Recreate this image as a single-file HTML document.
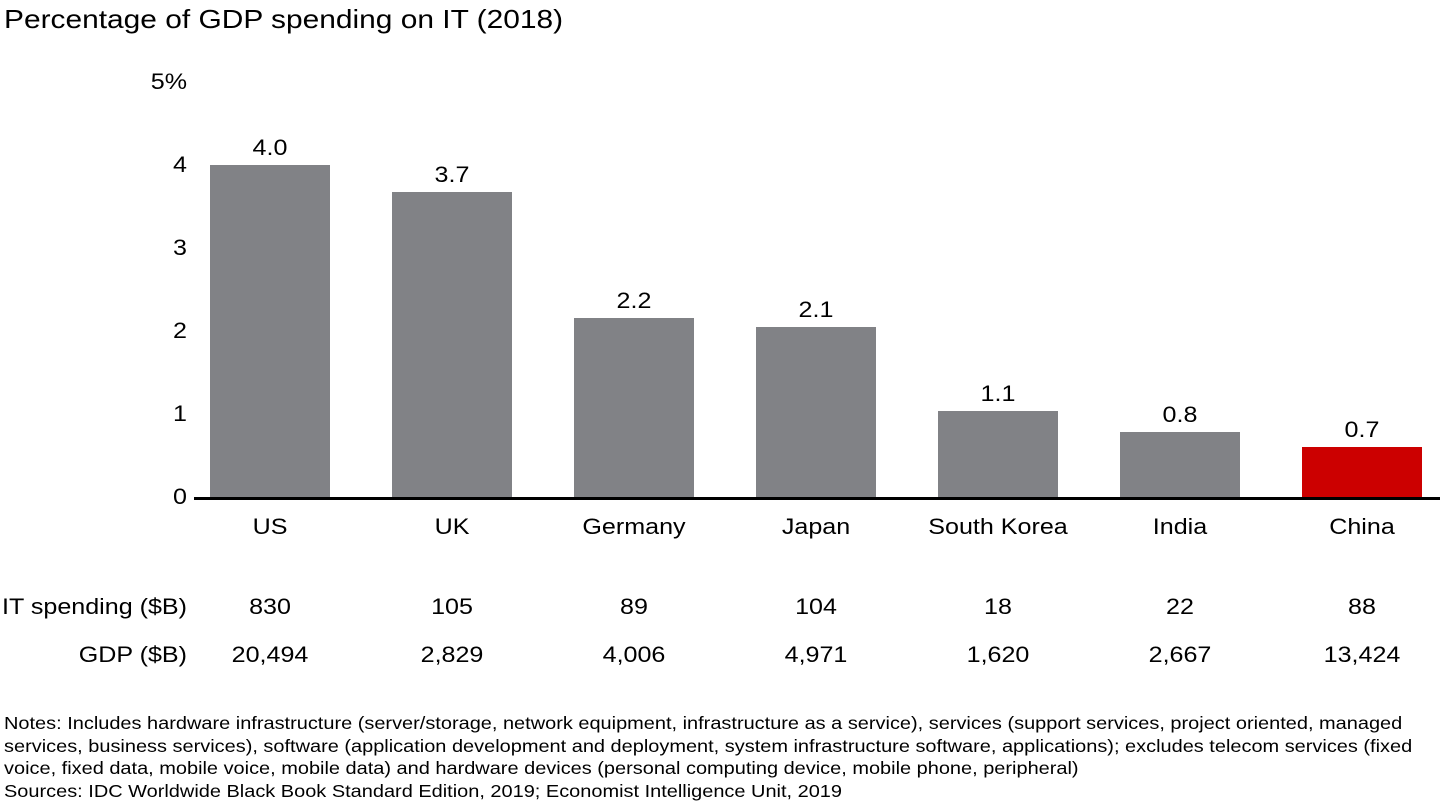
<!DOCTYPE html>
<html><head><meta charset="utf-8"><style>
body{margin:0;width:1440px;height:810px;background:#fff;font-family:"Liberation Sans",Arial,sans-serif;color:#000;position:relative;overflow:hidden}
.a{position:absolute;white-space:nowrap}
.t{font-size:22px}
.c{transform:translateX(-50%) scaleX(1.14)}
.r{text-align:right;transform:scaleX(1.14);transform-origin:right center}
.bar{position:absolute;background:#818286;width:120px}
.n{font-size:17.5px;line-height:22.7px;left:4px;top:712px;transform:scaleX(1.14);transform-origin:left top}
</style></head><body>
<div class="a" style="left:4px;top:4px;font-size:26px;transform:scaleX(1.15);transform-origin:left top">Percentage of GDP spending on IT (2018)</div>
<div class="a t r" style="left:100px;width:87px;top:69px">5%</div>
<div class="a t r" style="left:100px;width:87px;top:152px">4</div>
<div class="a t r" style="left:100px;width:87px;top:235px">3</div>
<div class="a t r" style="left:100px;width:87px;top:318px">2</div>
<div class="a t r" style="left:100px;width:87px;top:401px">1</div>
<div class="a t r" style="left:100px;width:87px;top:484px">0</div>

<div class="bar" style="left:210px;top:165px;height:333px"></div>
<div class="bar" style="left:392px;top:192px;height:306px"></div>
<div class="bar" style="left:574px;top:318px;height:180px"></div>
<div class="bar" style="left:756px;top:327px;height:171px"></div>
<div class="bar" style="left:938px;top:411px;height:87px"></div>
<div class="bar" style="left:1120px;top:432px;height:66px"></div>
<div class="bar" style="left:1302px;top:447px;height:51px;background:#cc0000"></div>
<div class="a" style="left:194px;top:497px;width:1246px;height:3px;background:#000"></div>

<div class="a t c" style="left:270px;top:135px">4.0</div>
<div class="a t c" style="left:452px;top:162px">3.7</div>
<div class="a t c" style="left:634px;top:288px">2.2</div>
<div class="a t c" style="left:816px;top:297px">2.1</div>
<div class="a t c" style="left:998px;top:381px">1.1</div>
<div class="a t c" style="left:1180px;top:402px">0.8</div>
<div class="a t c" style="left:1362px;top:417px">0.7</div>

<div class="a t c" style="left:270px;top:514px">US</div>
<div class="a t c" style="left:452px;top:514px">UK</div>
<div class="a t c" style="left:634px;top:514px">Germany</div>
<div class="a t c" style="left:816px;top:514px">Japan</div>
<div class="a t c" style="left:998px;top:514px">South Korea</div>
<div class="a t c" style="left:1180px;top:514px">India</div>
<div class="a t c" style="left:1362px;top:514px">China</div>

<div class="a t r" style="left:0;width:187px;top:594px">IT spending ($B)</div>
<div class="a t c" style="left:270px;top:594px">830</div>
<div class="a t c" style="left:452px;top:594px">105</div>
<div class="a t c" style="left:634px;top:594px">89</div>
<div class="a t c" style="left:816px;top:594px">104</div>
<div class="a t c" style="left:998px;top:594px">18</div>
<div class="a t c" style="left:1180px;top:594px">22</div>
<div class="a t c" style="left:1362px;top:594px">88</div>

<div class="a t r" style="left:0;width:187px;top:642px">GDP ($B)</div>
<div class="a t c" style="left:270px;top:642px">20,494</div>
<div class="a t c" style="left:452px;top:642px">2,829</div>
<div class="a t c" style="left:634px;top:642px">4,006</div>
<div class="a t c" style="left:816px;top:642px">4,971</div>
<div class="a t c" style="left:998px;top:642px">1,620</div>
<div class="a t c" style="left:1180px;top:642px">2,667</div>
<div class="a t c" style="left:1362px;top:642px">13,424</div>

<div class="a n">Notes: Includes hardware infrastructure (server/storage, network equipment, infrastructure as a service), services (support services, project oriented, managed<br>services, business services), software (application development and deployment, system infrastructure software, applications); excludes telecom services (fixed<br>voice, fixed data, mobile voice, mobile data) and hardware devices (personal computing device, mobile phone, peripheral)<br>Sources: IDC Worldwide Black Book Standard Edition, 2019; Economist Intelligence Unit, 2019</div>
</body></html>
